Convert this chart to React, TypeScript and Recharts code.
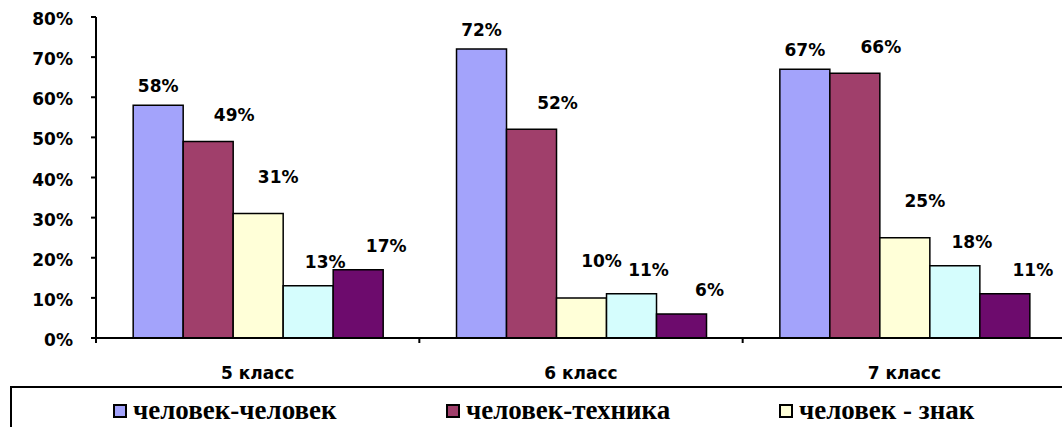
import React from 'react'
import { BarChart, Bar, XAxis, YAxis } from 'recharts'

const categories = ['5 класс', '6 класс', '7 класс']

const humanHuman = [58, 72, 67]
const humanTech = [49, 52, 66]
const humanSign = [31, 10, 25]
const humanNature = [13, 11, 18]
const humanArt = [17, 6, 11]

const yTicks = [0, 10, 20, 30, 40, 50, 60, 70, 80]

const series = [
  { key: 'hh', name: 'человек-человек', values: humanHuman, color: '#A3A3FB', dx: 0, dy: -19 },
  { key: 'ht', name: 'человек-техника', values: humanTech, color: '#A03F6B', dx: 26, dy: -26 },
  { key: 'hs', name: 'человек - знак', values: humanSign, color: '#FFFFD8', dx: 20, dy: -37 },
  { key: 'hn', name: 'человек - природа', values: humanNature, color: '#D5FDFD', dx: 17, dy: -24 },
  { key: 'ha', name: 'человек - художественный образ', values: humanArt, color: '#6D0B6D', dx: 28, dy: -24 },
]

const data = categories.map((name, i) => {
  const row: Record<string, string | number> = { name }
  series.forEach(s => { row[s.key] = s.values[i] })
  return row
})

const SANS = '"DejaVu Sans", Arial, sans-serif'
const SERIF = '"Liberation Serif", "Times New Roman", serif'
const TEXT_SIZE = 17

const makeLabel = (dx: number, dy: number) => (props: any) => {
  const { x, y, width, value } = props
  return (
    <text
      x={Number(x) + Number(width) / 2 + dx}
      y={Number(y) + dy}
      textAnchor="middle"
      dominantBaseline="central"
      fontFamily={SANS}
      fontWeight="bold"
      fontSize={TEXT_SIZE}
      fill="#000"
    >
      {value}%
    </text>
  )
}

const CategoryTick = (props: any) => {
  const { x, y, payload } = props
  const half = payload?.offset ?? 0
  return (
    <g>
      <line x1={x - half} x2={x - half} y1={y} y2={y + 5} stroke="#000" strokeWidth={2} />
      <text
        x={x}
        y={y + 35}
        textAnchor="middle"
        dominantBaseline="central"
        fontFamily={SANS}
        fontWeight="bold"
        fontSize={TEXT_SIZE}
        fill="#000"
      >
        {payload.value}
      </text>
    </g>
  )
}

const PercentTick = (props: any) => {
  const { x, y, payload } = props
  return (
    <text
      x={x}
      y={y + 2}
      textAnchor="end"
      dominantBaseline="central"
      fontFamily={SANS}
      fontWeight="bold"
      fontSize={TEXT_SIZE}
      fill="#000"
    >
      {payload.value}%
    </text>
  )
}

function LegendBox() {
  return (
    <div style={{
      position: 'absolute',
      left: 10,
      top: 386,
      width: 1100,
      height: 80,
      border: '2px solid #000',
      boxSizing: 'border-box',
    }}>
      <div style={{ display: 'flex', position: 'absolute', left: 101, top: 7 }}>
        {series.slice(0, 3).map(s => (
          <div key={s.key} style={{ width: 333, display: 'flex', alignItems: 'center' }}>
            <span style={{
              display: 'inline-block',
              width: 14,
              height: 14,
              boxSizing: 'border-box',
              border: '2px solid #000',
              background: s.color,
              marginRight: 6,
            }} />
            <span style={{ fontFamily: SERIF, fontWeight: 700, fontSize: 27, lineHeight: '31px', color: '#000' }}>
              {s.name}
            </span>
          </div>
        ))}
      </div>
    </div>
  )
}

export default function App() {
  return (
    <div style={{
      position: 'fixed',
      left: 0,
      top: 0,
      width: 1062,
      height: 427,
      overflow: 'hidden',
      background: '#fff',
    }}>
      <BarChart
        width={1070}
        height={427}
        data={data}
        margin={{ top: 17, right: 4, left: 0, bottom: 0 }}
        barCategoryGap="11.5%"
        barGap={0}
      >
        <XAxis
          dataKey="name"
          height={89}
          axisLine={{ stroke: '#000', strokeWidth: 2 }}
          tickLine={false}
          tickSize={0}
          tickMargin={0}
          tick={<CategoryTick />}
          interval={0}
        />
        <YAxis
          width={96}
          domain={[0, 80]}
          ticks={yTicks}
          axisLine={{ stroke: '#000', strokeWidth: 2 }}
          tickLine={{ stroke: '#000', strokeWidth: 2 }}
          tickSize={5}
          tickMargin={18}
          tick={<PercentTick />}
          interval={0}
          allowDataOverflow
        />
        {series.map(s => (
          <Bar
            key={s.key}
            dataKey={s.key}
            name={s.name}
            fill={s.color}
            stroke="#000"
            strokeWidth={1.5}
            isAnimationActive={false}
            label={makeLabel(s.dx, s.dy)}
          />
        ))}
      </BarChart>
      <LegendBox />
    </div>
  )
}
